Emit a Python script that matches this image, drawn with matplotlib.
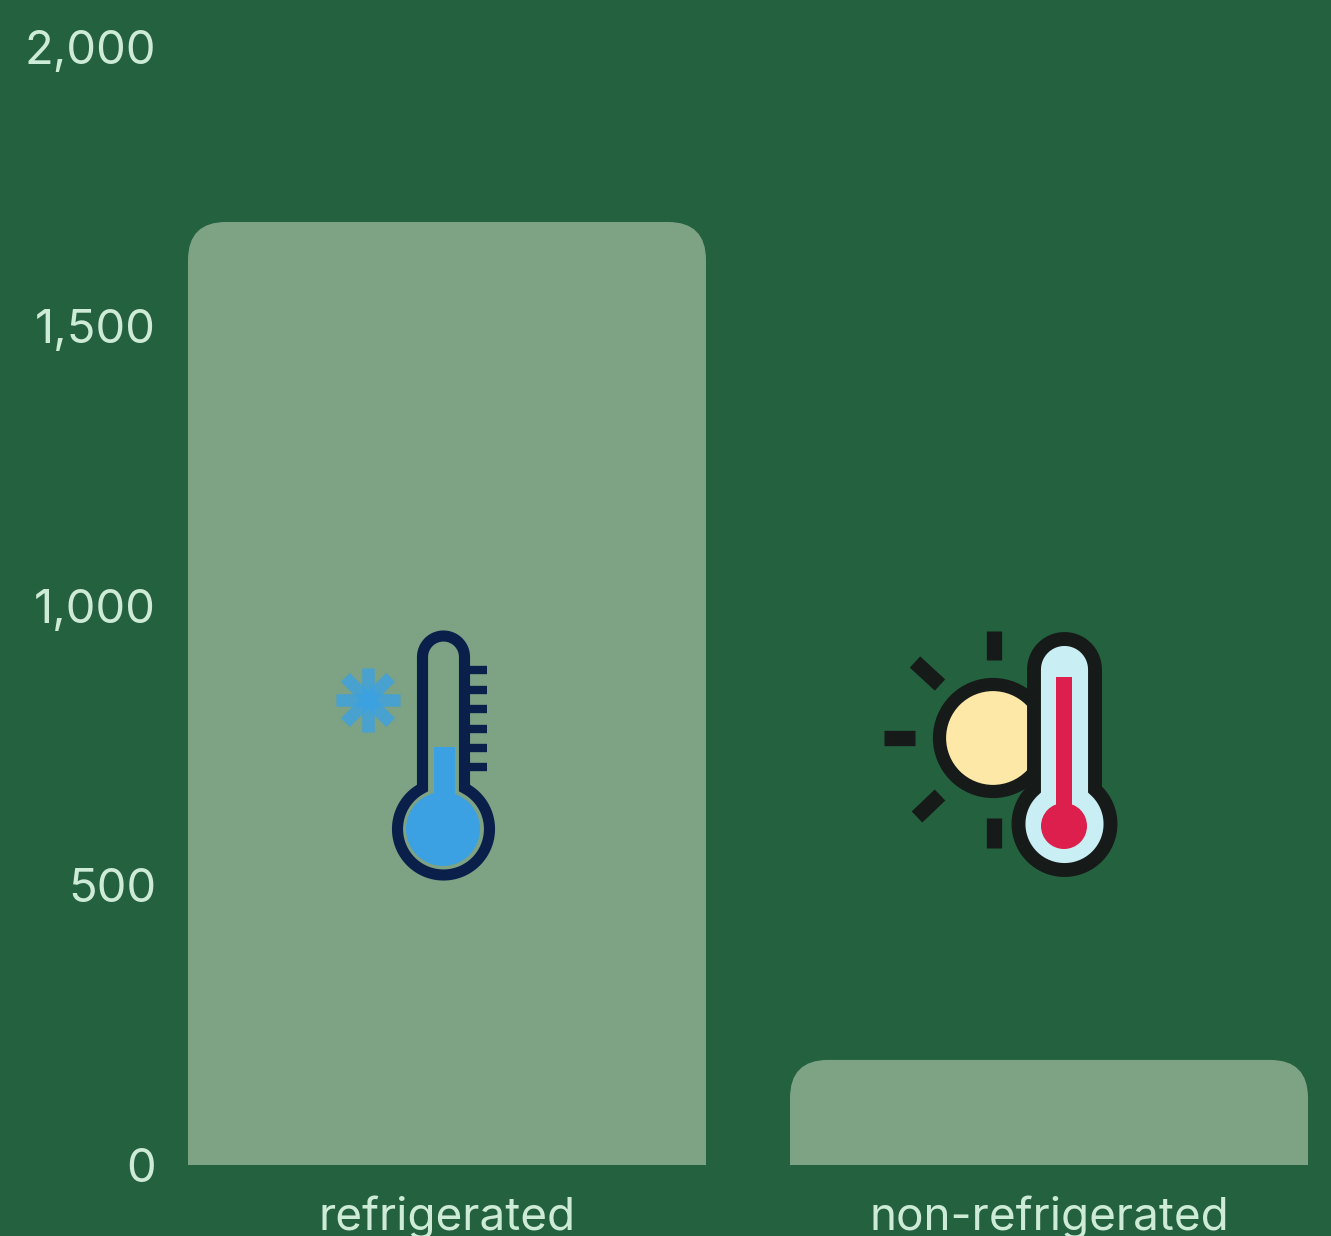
import numpy as np
import matplotlib
matplotlib.use("Agg")
import matplotlib.pyplot as plt
from matplotlib.path import Path
from matplotlib.patches import PathPatch, Circle, Rectangle

# data
categories = ["refrigerated", "non-refrigerated"]
values = [1687, 188]
y_ticks = [0, 500, 1000, 1500, 2000]
y_tick_labels = ["0", "500", "1,000", "1,500", "2,000"]

#CONSTANTS
W, H = 1331, 1236
BG = "#24613F"
BAR = "#7DA284"
TEXT = "#CDEBD6"
NAVY = "#0B1F4B"
BLUE = "#3BA1E2"
BLACK = "#161A18"
ICE = "#C9EEF3"
RED = "#DC1F4C"
SUN = "#FDE8A8"

PX_LEFT, PX_RIGHT = 188, 1308
PX_ZERO, PX_TOP = 1165, 47
BAR_SPACING = 602
BAR_WIDTH = 518 / BAR_SPACING
CORNER_PX = 38

plt.rcParams["font.family"] = ["Inter", "DejaVu Sans"]


def rounded_bar(x, value, width, rx, ry):
    left, right = x - width / 2, x + width / 2
    verts = [(left, 0), (left, value - ry), (left, value), (left + rx, value),
             (right - rx, value), (right, value), (right, value - ry), (right, 0), (left, 0)]
    codes = [Path.MOVETO, Path.LINETO, Path.CURVE3, Path.CURVE3,
             Path.LINETO, Path.CURVE3, Path.CURVE3, Path.LINETO, Path.CLOSEPOLY]
    return Path(verts, codes)


def thermo_outline(cx, top, half_w, bulb_cy, bulb_r):
    # tube with round top going into a round bulb, pixel coords
    cap_y = top + half_w
    a = np.arcsin(half_w / bulb_r)
    cap = np.linspace(np.pi, 2 * np.pi, 30)
    bulb = np.linspace(-np.pi / 2 + a, 3 * np.pi / 2 - a, 80)
    xs = np.r_[cx + half_w * np.cos(cap), cx + bulb_r * np.cos(bulb)]
    ys = np.r_[cap_y + half_w * np.sin(cap), bulb_cy + bulb_r * np.sin(bulb)]
    return np.c_[xs, ys]


fig = plt.figure(figsize=(W / 100, H / 100), dpi=100, facecolor=BG)
ax = fig.add_axes([PX_LEFT / W, 1 - PX_ZERO / H, (PX_RIGHT - PX_LEFT) / W, (PX_ZERO - PX_TOP) / H])
ax.set_facecolor(BG)

half_span = (PX_RIGHT - PX_LEFT) / BAR_SPACING / 2
ax.set_xlim(0.5 - half_span, 0.5 + half_span)
ax.set_ylim(0, 2000)
rx = CORNER_PX / BAR_SPACING
ry = CORNER_PX * 2000 / (PX_ZERO - PX_TOP)
for i, v in enumerate(values):
    ax.add_patch(PathPatch(rounded_bar(i, v, BAR_WIDTH, rx, ry), facecolor=BAR, edgecolor="none"))

for s in ax.spines.values():
    s.set_visible(False)
ax.set_yticks(y_ticks, y_tick_labels)
ax.set_xticks(range(len(categories)), categories)
ax.tick_params(axis="y", length=0, pad=23, labelsize=34, labelcolor=TEXT)
ax.tick_params(axis="x", length=0, pad=22, labelsize=33, labelcolor=TEXT)

# icons on a pixel overlay
ov = fig.add_axes([0, 0, 1, 1], facecolor="none")
ov.set_xlim(0, W)
ov.set_ylim(H, 0)
ov.axis("off")

# cold thermometer
ov.add_patch(Rectangle((434, 747), 21, 60, facecolor=BLUE, edgecolor="none"))
ov.add_patch(Circle((443, 829), 37, facecolor=BLUE, edgecolor="none"))
ov.add_patch(plt.Polygon(thermo_outline(443.5, 636, 21, 829, 46), closed=True, fill=False,
                         edgecolor=NAVY, linewidth=8))
for y in [670, 690, 709, 729, 748, 767]:
    ov.plot([468, 487], [y, y], color=NAVY, linewidth=6, solid_capstyle="butt")
for ang in [0, 45, 90, 135]:
    dx, dy = 32 * np.cos(np.radians(ang)), 32 * np.sin(np.radians(ang))
    ov.plot([368 - dx, 368 + dx], [700 - dy, 700 + dy], color=BLUE, alpha=0.8,
            linewidth=9, solid_capstyle="butt")

# sun
for x0, y0, x1, y1 in [(994, 631, 994, 660), (994, 818, 994, 848), (884, 738, 915, 738),
                       (915, 662, 940, 685), (917, 817, 940, 795)]:
    ov.plot([x0, x1], [y0, y1], color=BLACK, linewidth=11, solid_capstyle="butt")
ov.add_patch(Circle((993, 738), 53.5, facecolor=SUN, edgecolor=BLACK, linewidth=9.5))

# hot thermometer
ov.add_patch(plt.Polygon(thermo_outline(1064.5, 639, 30.5, 824, 46), closed=True,
                         facecolor=ICE, edgecolor=BLACK, linewidth=10))
ov.add_patch(Rectangle((1056, 677), 16, 130, facecolor=RED, edgecolor="none"))
ov.add_patch(Circle((1064, 826), 23, facecolor=RED, edgecolor="none"))

fig.savefig("out.png", dpi=100, facecolor=BG)
